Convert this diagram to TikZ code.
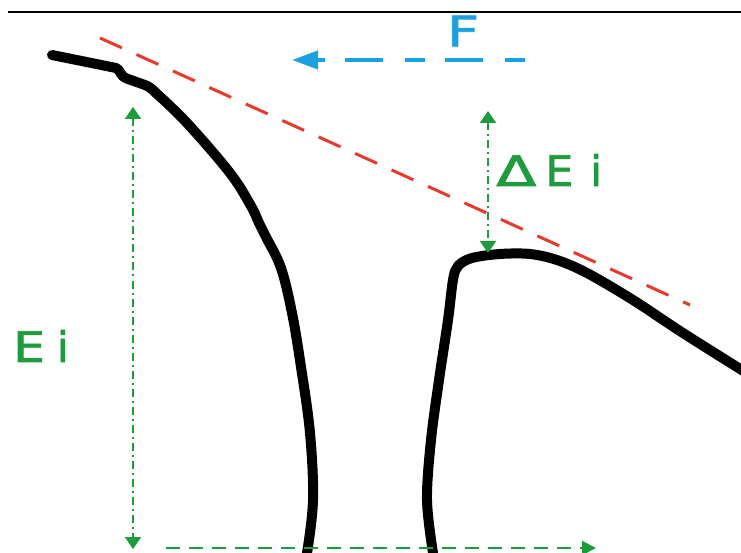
\documentclass[tikz,border=0pt]{standalone}
\usepackage{fontspec}
\setmainfont{DejaVu Sans}
\newfontfamily\lblfont{DejaVu Sans}[FakeBold=1.6]
\usetikzlibrary{arrows.meta}
\definecolor{gr}{HTML}{1E9B3D}
\definecolor{bl}{HTML}{1BA1E2}
\definecolor{rd}{HTML}{E63A2C}
\tikzset{
  lbl/.style={inner sep=0pt, font=\lblfont\fontsize{42}{46}\selectfont},
  grarrow/.style={gr, line width=2, dash pattern=on 8 off 4 on 2 off 4, {Triangle[length=12,width=16]}-{Triangle[length=12,width=16]}},
  grharrow/.style={gr, line width=2, dash pattern=on 14 off 9, -{Triangle[length=14,width=14]}},
  blarrow/.style={bl, line width=4, dash pattern=on 20 off 22 on 38 off 20, -{Triangle[length=26,width=18]}},
  reddash/.style={rd, line width=3, dash pattern=on 24 off 16},
  rock/.style={black, line width=10, line cap=round, line join=round}
}
\begin{document}
\begin{tikzpicture}[x=1pt,y=-1pt]
\useasboundingbox (0,0) rectangle (741,553);
\fill[white] (0,0) rectangle (741,553);
% top rule
\draw[line width=1.2] (8,12) -- (741,12);
% labels
\node[lbl, text=bl] (F) at (463,31) {\scalebox{1.35}[1]{F}};
\node[lbl, text=gr, anchor=west] (dEi) at (496,170) {\scalebox{1.4}[1]{Δ}\hspace{9pt}\scalebox{1.05}[1]{E}\hspace{17pt}i};
\node[lbl, text=gr, anchor=west] (Ei) at (13,346) {\scalebox{1.2}[1]{E}\hspace{12pt}i};
% coordinates
\coordinate (fs) at (525,60);
\coordinate (fe) at (292,60);
\coordinate (r1) at (100,38);
\coordinate (r2) at (690,305);
\coordinate (e1) at (133,107);
\coordinate (e2) at (133,549);
\coordinate (d1) at (488,111);
\coordinate (d2) at (488,253);
\coordinate (h1) at (166,548);
\coordinate (h2) at (596,548);
% red dashed tangent
\draw[reddash] (r1) -- (r2);
% blue force arrow
\draw[blarrow] (fs) -- (fe);
% left slope
\draw[rock] (52,55) -- (116,68) .. controls (121,70) and (119,76) .. (128,79) -- (145,85) .. controls (150,87) and (152,89) .. (156,93);
\draw[rock] plot[smooth, tension=0.6] coordinates {(156,93) (187,123) (230,173) (251,206) (259,223) (266,237) (281,268) (292,313) (301,367) (310,433) (313,500) (307,553)};
% right slope
\draw[rock] plot[smooth, tension=0.55] coordinates {(433,553) (427,500) (431,440) (439,380) (448,320) (453,280) (458,266) (472,258) (500,254) (530,254) (557,260) (587,273) (633,300) (683,333) (745,372)};
% green arrows
\draw[grarrow] (d1) -- (d2);
\draw[grarrow] (e1) -- (e2);
\draw[grharrow] (h1) -- (h2);
\end{tikzpicture}
\end{document}
